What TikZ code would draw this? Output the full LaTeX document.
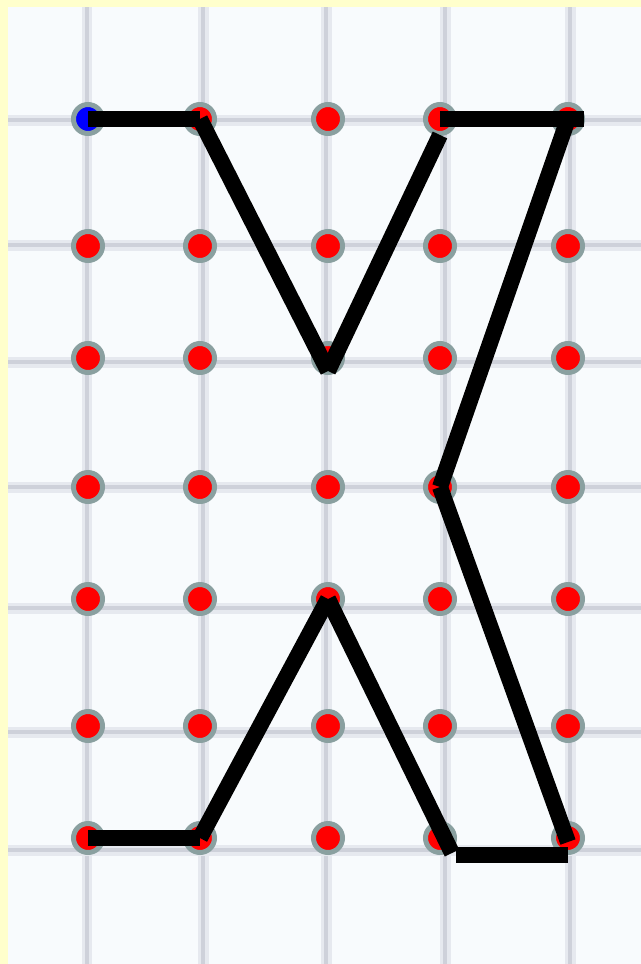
\documentclass[tikz,border=0pt]{standalone}
\definecolor{fon}{RGB}{255,255,204}
\definecolor{list}{RGB}{248,251,253}
\definecolor{setka}{RGB}{206,209,218}
\definecolor{razmyv}{RGB}{230,233,239}
\definecolor{obod}{RGB}{138,160,160}
\tikzset{
	tochka/.style={circle, draw=obod, line width=0.1cm, minimum size=0.58cm, inner sep=0pt},
	hod/.style={line width=0.32cm, black},
	liniya/.style={razmyv, line width=0.22cm, postaction={draw=setka, line width=0.09cm}}
}
\begin{document}
\begin{tikzpicture}[x=0.02cm, y=-0.02cm]
		\useasboundingbox (0,0) rectangle (641,964);
		% фон
		\fill[fon] (0,0) rectangle (641,964);
		\fill[list] (8,7) rectangle (641,964);
		% сетка
		\foreach \x in {87,203,326,445,570}{
			\draw[liniya] (\x,7) -- (\x,964);
		}
		\foreach \y in {120,245,362,487,608,732,850}{
			\draw[liniya] (8,\y) -- (641,\y);
		}
		% точки
		\foreach \x/\i in {88/1, 200/2, 328/3, 440/4, 568/5}{
			\foreach \y/\j in {119/1, 246/2, 358/3, 487/4, 599/5, 726/6, 838/7}{
				\ifnum\i\j=11 \def\cvet{blue}\else\def\cvet{red}\fi
				\node[tochka, fill=\cvet] (p\i\j) at (\x,\y) {};
			}
		}
		% ломаная
		\draw[hod] (p11.center) -- (p21.center);
		\draw[hod] (p21.center) -- ([yshift=-0.26cm]p33.center);
		\draw[hod] ([yshift=-0.32cm]p41.center) -- ([yshift=-0.26cm]p33.center);
		\draw[hod] (p41.center) -- ([xshift=0.32cm]p51.center);
		\draw[hod] (p51.center) -- (p44.center);
		\draw[hod] (p44.center) -- ([yshift=-0.08cm]p57.center);
		\draw[hod] ([xshift=0.32cm, yshift=-0.34cm]p47.center) -- ([yshift=-0.34cm]p57.center);
		\draw[hod] (p35.center) -- ([xshift=0.24cm, yshift=-0.3cm]p47.center);
		\draw[hod] (p27.center) -- (p35.center);
		\draw[hod] (p17.center) -- (p27.center);
	\end{tikzpicture}
\end{document}
